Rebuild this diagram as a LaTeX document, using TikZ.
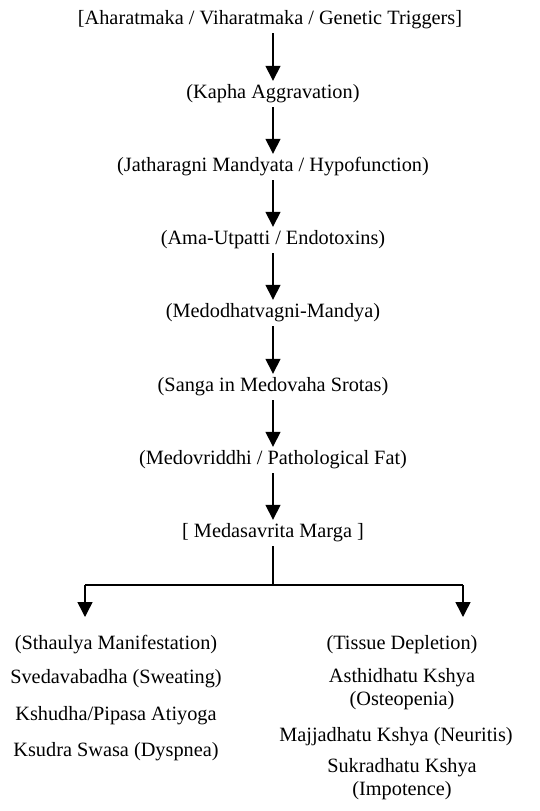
\documentclass[tikz,border=0pt]{standalone}
\usepackage{fontspec}
\setmainfont{Liberation Serif}
\usetikzlibrary{arrows.meta,positioning}

\begin{document}
\begin{tikzpicture}[x=1pt,y=-1pt]
	\tikzstyle{step text} = [
		font=\fontsize{20.3}{23}\selectfont,
		inner sep=0pt,
		minimum height=26pt
	]
	\tikzstyle{list text} = [
		font=\fontsize{20.3}{22.5}\selectfont,
		inner sep=0pt,
		align=center
	]
	\tikzstyle{flow} = [
		line width=1.5pt,
		-{Triangle[width=15pt,length=15pt]}
	]

	\useasboundingbox (0,0) rectangle (540,811);

	% main chain
	\node (triggers) [step text] at (270,20) {[Aharatmaka / Viharatmaka / Genetic Triggers]};
	\node (kapha) [step text] at (273,94) {(Kapha Aggravation)};
	\node (agni) [step text] at (273,167) {(Jatharagni Mandyata / Hypofunction)};
	\node (ama) [step text] at (273,240) {(Ama-Utpatti / Endotoxins)};
	\node (medoagni) [step text] at (273,313) {(Medodhatvagni-Mandya)};
	\node (sanga) [step text] at (273,387) {(Sanga in Medovaha Srotas)};
	\node (medovriddhi) [step text] at (273,460) {(Medovriddhi / Pathological Fat)};
	\node (marga) [step text] at (273,533) {[ Medasavrita Marga ]};

	\draw [flow] (triggers.south -| kapha) -- (kapha);
	\draw [flow] (kapha) -- (agni);
	\draw [flow] (agni) -- (ama);
	\draw [flow] (ama) -- (medoagni);
	\draw [flow] (medoagni) -- (sanga);
	\draw [flow] (sanga) -- (medovriddhi);
	\draw [flow] (medovriddhi) -- (marga);

	% branch
	\coordinate (lbar) at (85,585);
	\coordinate (rbar) at (463,585);
	\coordinate (ltip) at (85,617);
	\coordinate (rtip) at (463,617);
	\draw [line width=1.5pt] (marga.south) -- (marga.south |- lbar);
	\draw [line width=1.3pt] (lbar) -- (rbar);
	\draw [flow] (lbar) -- (ltip);
	\draw [flow] (rbar) -- (rtip);

	% left column
	\node (sthaulya) [list text] at (116,645) {(Sthaulya Manifestation)};
	\node (sveda) [list text] at (116,679) {Svedavabadha (Sweating)};
	\node (kshudha) [list text] at (116,716) {Kshudha/Pipasa Atiyoga};
	\node (swasa) [list text] at (116,752) {Ksudra Swasa (Dyspnea)};

	% right column
	\node (depletion) [list text] at (402,645) {(Tissue Depletion)};
	\node (asthi) [list text] at (402,689) {Asthidhatu Kshya\\(Osteopenia)};
	\node (majja) [list text] at (396,737) {Majjadhatu Kshya (Neuritis)};
	\node (sukra) [list text] at (402,779) {Sukradhatu Kshya\\(Impotence)};
\end{tikzpicture}
\end{document}
